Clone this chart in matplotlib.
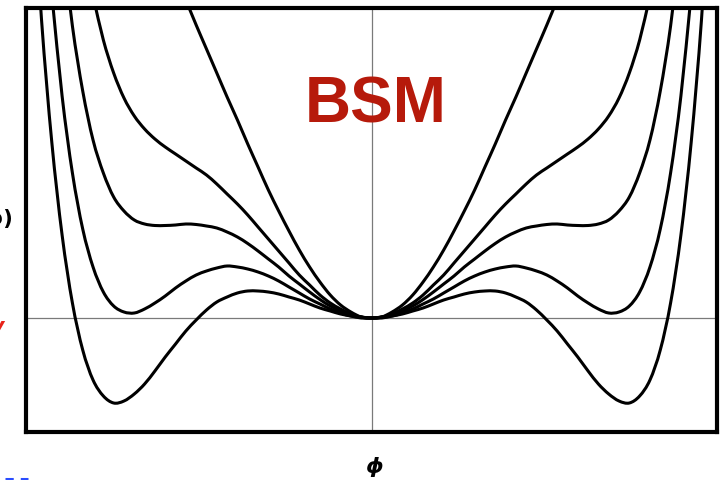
import numpy as np
import matplotlib
matplotlib.use("Agg")
import matplotlib.pyplot as plt
from matplotlib.lines import Line2D
from matplotlib.path import Path
from matplotlib.patches import PathPatch

# Field values (phi >= 0); the potential is symmetric, V(phi) = V(-phi).
phi = [0.00, 0.03, 0.06, 0.09, 0.12, 0.15, 0.18, 0.21, 0.24, 0.27, 0.30, 0.33,
       0.36, 0.39, 0.42, 0.45, 0.48, 0.51, 0.54, 0.57, 0.60, 0.63, 0.66, 0.69,
       0.72, 0.75, 0.78, 0.81, 0.84, 0.87, 0.90, 0.93, 0.96, 0.99]

# V(phi) for the five parameter choices, from the steepest to the deepest.
v_a = [0.00, 0.01, 0.06, 0.13, 0.23, 0.36, 0.51, 0.68, 0.87, 1.07, 1.28, 1.51,
       1.74, 1.98, 2.21, 2.45, 2.69, 2.93, 3.18]
v_b = [0.00, 0.01, 0.04, 0.09, 0.15, 0.23, 0.33, 0.43, 0.55, 0.67, 0.79, 0.91,
       1.03, 1.14, 1.24, 1.34, 1.43, 1.50, 1.57, 1.64, 1.71, 1.79, 1.89, 2.02,
       2.20, 2.45, 2.78, 3.22]
v_c = [0.00, 0.008, 0.03, 0.07, 0.12, 0.185, 0.26, 0.34, 0.42, 0.51, 0.59,
       0.67, 0.745, 0.81, 0.86, 0.90, 0.92, 0.935, 0.94, 0.93, 0.925, 0.925,
       0.94, 0.98, 1.07, 1.21, 1.45, 1.78, 2.27, 2.92, 3.79]
v_d = [0.00, 0.01, 0.02, 0.05, 0.09, 0.14, 0.19, 0.25, 0.31, 0.37, 0.42, 0.46,
       0.49, 0.51, 0.52, 0.50, 0.47, 0.43, 0.37, 0.30, 0.22, 0.15, 0.09, 0.05,
       0.06, 0.12, 0.26, 0.51, 0.89, 1.45, 2.22, 3.24]
v_e = [0.00, 0.00, 0.02, 0.04, 0.07, 0.10, 0.14, 0.18, 0.21, 0.24, 0.26, 0.27,
       0.27, 0.25, 0.21, 0.16, 0.08, -0.02, -0.13, -0.26, -0.39, -0.53, -0.66,
       -0.76, -0.83, -0.85, -0.78, -0.62, -0.32, 0.15, 0.83, 1.76, 2.99, 4.59]

curves = [v_a, v_b, v_c, v_d, v_e]

XLIM = (-1.005, 1.005)
YLIM = (-1.14, 3.10)


def smooth_path(x, y, sx, sy):
    """Catmull-Rom curve through the points as cubic Bezier segments,
    built in a frame scaled by (sx, sy) so both directions weigh alike."""
    p = np.column_stack([np.asarray(x) * sx, np.asarray(y) * sy])
    ext = np.vstack([2 * p[0] - p[1], p, 2 * p[-1] - p[-2]])
    verts = [p[0]]
    codes = [Path.MOVETO]
    for i in range(1, len(ext) - 2):
        p0, p1, p2, p3 = ext[i - 1], ext[i], ext[i + 1], ext[i + 2]
        verts += [p1 + (p2 - p0) / 6.0, p2 - (p3 - p1) / 6.0, p2]
        codes += [Path.CURVE4] * 3
    verts = np.array(verts) / np.array([sx, sy])
    return Path(verts, codes)


fig = plt.figure(figsize=(7.25, 4.81), dpi=100)
ax = fig.add_axes([26 / 725, 1 - 433 / 481, (717 - 26) / 725, (433 - 9) / 481])

ax.axhline(0, color="#7a7a7a", lw=0.9, zorder=1)
ax.axvline(0, color="#7a7a7a", lw=0.9, zorder=1)

sx = 691 / (XLIM[1] - XLIM[0])
sy = 424 / (YLIM[1] - YLIM[0])
for v in curves:
    half_phi = np.asarray(phi[:len(v)])
    half_v = np.asarray(v)
    x = np.concatenate([-half_phi[::-1], half_phi[1:]])
    y = np.concatenate([half_v[::-1], half_v[1:]])
    ax.add_patch(PathPatch(smooth_path(x, y, sx, sy), facecolor="none",
                           edgecolor="black", lw=2.2, capstyle="round",
                           zorder=3))

ax.set_xlim(*XLIM)
ax.set_ylim(*YLIM)
ax.set_xticks([])
ax.set_yticks([])
for s in ax.spines.values():
    s.set_linewidth(3.0)
    s.set_color("black")

ax.text(0.012, 1.97, "BSM", color="#B61A0B", fontsize=46, fontweight="bold",
        family="Liberation Sans", ha="center", va="baseline", zorder=4)

fig.text(374 / 725, 1 - 467 / 481, "ϕ", fontsize=16, fontweight="bold",
         style="italic", ha="center", va="center")
fig.text(14 / 725, 1 - 219 / 481, "V(ϕ)", fontsize=15, fontweight="bold",
         ha="right", va="center")
fig.text(4 / 725, 1 - 327 / 481, "v", fontsize=15, fontweight="bold",
         style="italic", color="#e8231a", ha="right", va="center")
fig.add_artist(Line2D([5 / 725, 28 / 725], [1.5 / 481, 1.5 / 481],
                      color="#2a4dff", lw=2.2, ls=(0, (2.7, 2.3)),
                      transform=fig.transFigure))

fig.savefig("out.png", dpi=100)
